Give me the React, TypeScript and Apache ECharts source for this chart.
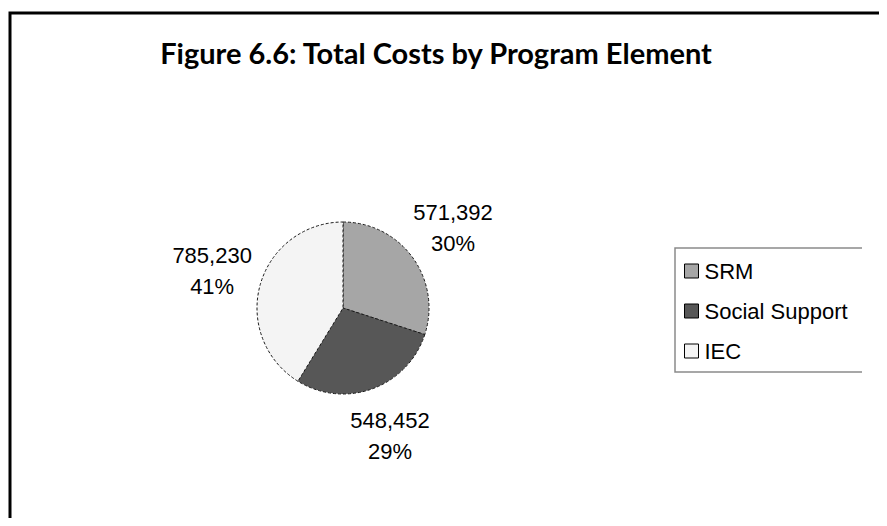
import React, { useEffect, useRef } from "react";
import * as echarts from "echarts";

const categories = ["SRM", "Social Support", "IEC"];
const values = [571392, 548452, 785230];
const sliceColors = ["#a6a6a6", "#575757", "#f4f4f4"];
const titleText = "Figure 6.6: Total Costs by Program Element";

export default function App() {
  const ref = useRef<HTMLDivElement>(null);
  useEffect(() => {
    if (!ref.current) return;
    const chart = echarts.init(ref.current, null, { renderer: "svg" });
    const data = categories.map((name, i) => ({
      name,
      value: values[i],
      itemStyle: { color: sliceColors[i] },
    }));
    chart.setOption({
      animation: false,
      backgroundColor: "#ffffff",
      title: {
        text: titleText,
        left: 431,
        top: 33,
        textAlign: "center",
        textStyle: {
          fontFamily: "Lato",
          fontWeight: "bold",
          fontSize: 29,
          color: "#000",
        },
      },
      legend: {
        orient: "vertical",
        left: 675,
        top: 248,
        padding: [12, 10, 12, 9],
        itemGap: 18,
        itemWidth: 14,
        itemHeight: 14,
        icon: "rect",
        itemStyle: { borderColor: "#000", borderWidth: 1 },
        textStyle: {
          fontFamily: "Liberation Sans",
          fontSize: 22,
          color: "#000",
          padding: [0, 0, 0, 1],
        },
        data: categories,
      },
      graphic: [
        {
          type: "polyline",
          shape: { points: [[10, 526], [10, 13], [887, 13]] },
          style: { stroke: "#000", lineWidth: 3, fill: "none" },
        },
        {
          type: "polyline",
          shape: { points: [[862, 248], [675, 248], [675, 372], [862, 372]] },
          style: { stroke: "#8a8a8a", lineWidth: 1.5, fill: "none" },
        },
      ],
      series: [
        {
          type: "pie",
          center: [343, 308],
          radius: 86,
          startAngle: 90,
          clockwise: true,
          data,
          itemStyle: {
            borderColor: "#1a1a1a",
            borderWidth: 1,
            borderType: [3, 2],
          },
          label: {
            show: true,
            position: "outside",
            fontFamily: "Liberation Sans",
            fontSize: 22,
            lineHeight: 31,
            color: "#000",
            formatter: (p: any) =>
              `${Number(p.value).toLocaleString("en-US")}\n${Math.round(p.percent)}%`,
          },
          labelLine: {
            show: true,
            length: 50,
            length2: 0,
            lineStyle: { color: "rgba(0,0,0,0)", width: 0 },
          },
          labelLayout: (params: any) => {
            const pts = params.labelLinePoints;
            if (!pts || !pts.length) return { align: "center" };
            const e = pts[1] || pts[pts.length - 1];
            return { x: e[0], y: e[1], align: "center", verticalAlign: "middle" };
          },
          emphasis: { disabled: true },
        },
      ],
    });
    return () => chart.dispose();
  }, []);
  return <div ref={ref} style={{ width: 887, height: 526, margin: -8 }} />;
}
